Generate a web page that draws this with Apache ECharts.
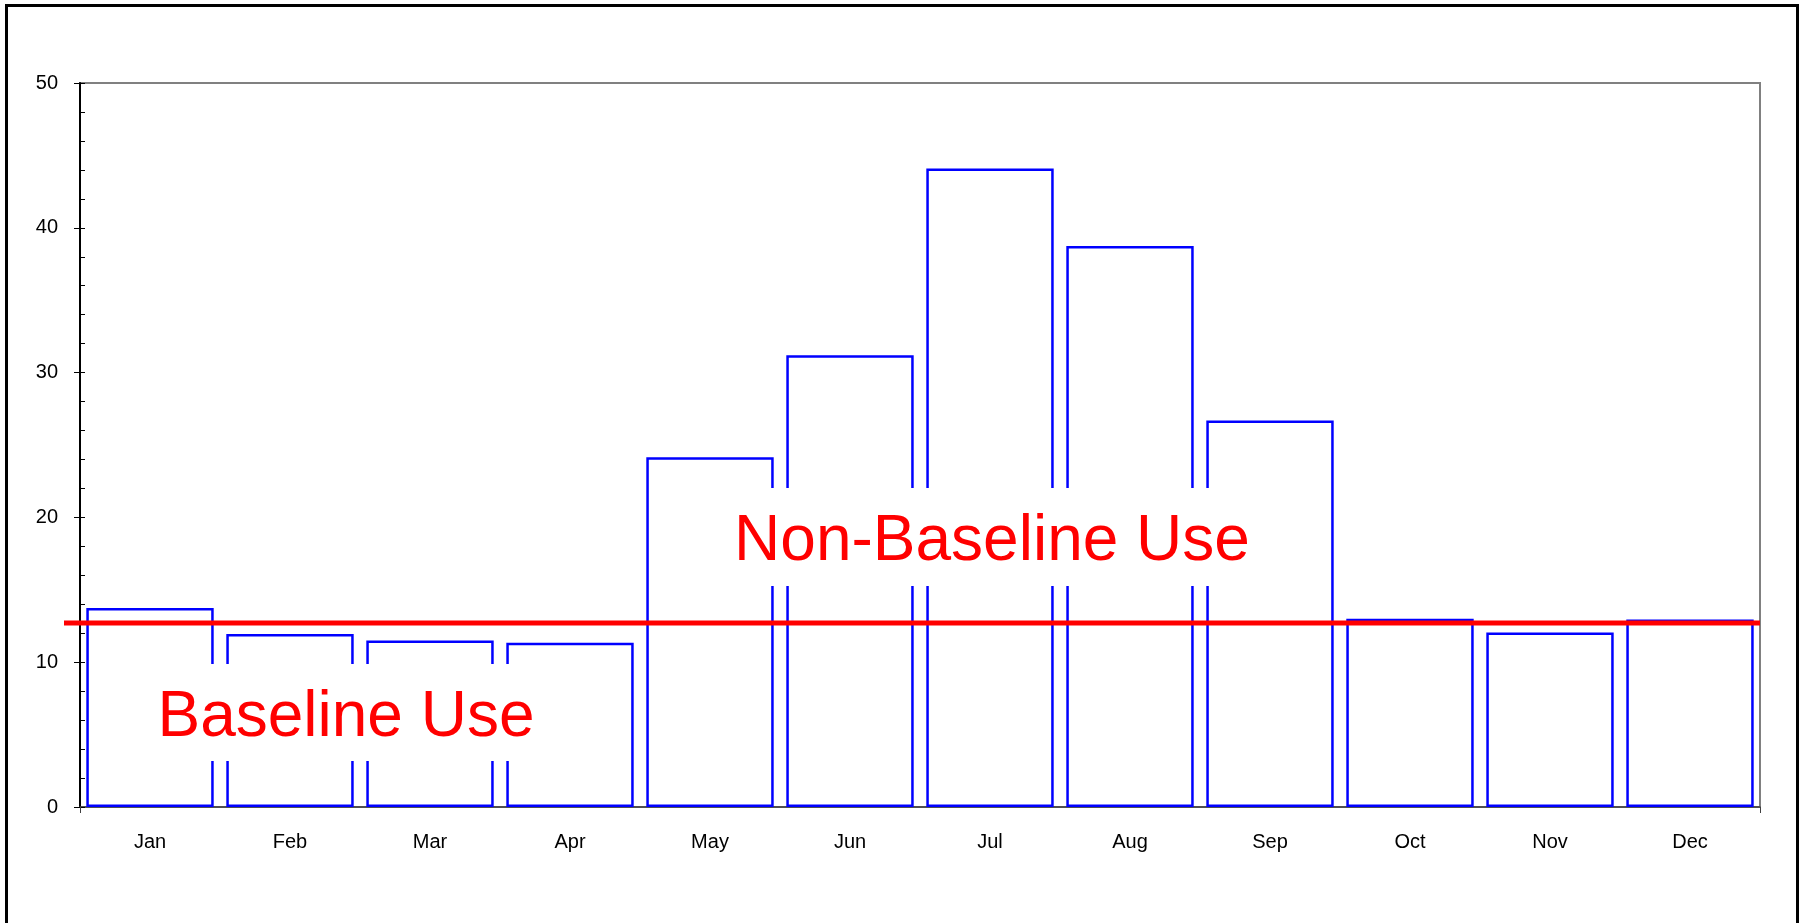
<!DOCTYPE html>
<html>
<head>
<meta charset="utf-8">
<script src="https://cdn.jsdelivr.net/npm/echarts@6/dist/echarts.min.js"></script>
<style>
  html, body { margin: 0; padding: 0; overflow: hidden; background: #fff; }
  #chart { position: absolute; left: 0; top: 0; width: 1808px; height: 923px; }
  #frame { position: absolute; left: 5px; top: 4px; width: 1788px; height: 1000px; border: 3px solid #000; pointer-events: none; }
</style>
</head>
<body>
<div id="chart"></div>
<div id="frame"></div>
<script>
// monthly use
const months = ['Jan', 'Feb', 'Mar', 'Apr', 'May', 'Jun', 'Jul', 'Aug', 'Sep', 'Oct', 'Nov', 'Dec']
const monthlyUse = [13.75, 11.95, 11.5, 11.35, 24.15, 31.2, 44.1, 38.75, 26.7, 13.0, 12.05, 12.95]
const baselineUse = 12.7
const baselineLine = [[0, baselineUse], [1, baselineUse]]

const font = 'Liberation Sans, Arial, sans-serif'

const chart = echarts.init(document.getElementById('chart'))

// white box + red caption
function caption(text, cx, cy, box) {
  return [
    {
      type: 'rect',
      z: 9,
      shape: box,
      style: { fill: '#fff' },
    },
    {
      type: 'text',
      x: cx,
      y: cy,
      z: 10,
      style: {
        text: text,
        fill: '#ff0000',
        font: '64px ' + font,
        align: 'center',
        verticalAlign: 'middle',
      },
    },
  ]
}

const option = {
  animation: false,
  backgroundColor: '#fff',
  grid: [
    {
      left: 80, right: 48, top: 83, bottom: 116,
      show: true, borderColor: '#808080', borderWidth: 2,
    },
    // the red baseline reaches a little past the y axis
    { left: 64, right: 48, top: 83, bottom: 116 },
  ],
  xAxis: [
    {
      type: 'category',
      gridIndex: 0,
      data: months,
      axisLine: { lineStyle: { color: '#404040', width: 1.5 } },
      axisTick: {
        show: true,
        length: 6,
        interval: (i) => i === 0,
        lineStyle: { color: '#404040' },
      },
      axisLabel: { color: '#000', fontSize: 20, fontFamily: font, margin: 25 },
    },
    { type: 'value', gridIndex: 1, min: 0, max: 1, show: false },
  ],
  yAxis: [
    {
      type: 'value',
      gridIndex: 0,
      position: 'left',
      min: 0,
      max: 50,
      interval: 10,
      axisLine: { show: true, lineStyle: { color: '#000', width: 2 } },
      axisTick: { show: true, length: 6, lineStyle: { color: '#000' } },
      splitLine: { show: false },
      axisLabel: { color: '#000', fontSize: 20, fontFamily: font, margin: 22 },
    },
    {
      // inside ticks (major + minor)
      type: 'value',
      gridIndex: 0,
      position: 'left',
      offset: 0,
      min: 0,
      max: 50,
      interval: 10,
      axisLine: { show: false },
      axisTick: { show: true, inside: true, length: 5, lineStyle: { color: '#000' } },
      minorTick: { show: true, splitNumber: 5, length: 5, lineStyle: { color: '#000' } },
      axisLabel: { show: false },
      splitLine: { show: false },
    },
    { type: 'value', gridIndex: 1, min: 0, max: 50, show: false },
  ],
  series: [
    {
      type: 'bar',
      xAxisIndex: 0,
      yAxisIndex: 0,
      data: monthlyUse,
      barCategoryGap: '9%',
      itemStyle: { color: 'rgba(255,255,255,0)', borderColor: '#0000ff', borderWidth: 2.5 },
    },
    {
      type: 'line',
      xAxisIndex: 1,
      yAxisIndex: 2,
      data: baselineLine,
      symbol: 'none',
      lineStyle: { color: '#ff0000', width: 5 },
      z: 5,
    },
  ],
  graphic: [
    ...caption('Baseline Use', 346, 718, { x: 139, y: 664, width: 415, height: 97 }),
    ...caption('Non-Baseline Use', 992, 542, { x: 716, y: 488, width: 553, height: 98 }),
  ],
}

chart.setOption(option)
</script>
</body>
</html>
